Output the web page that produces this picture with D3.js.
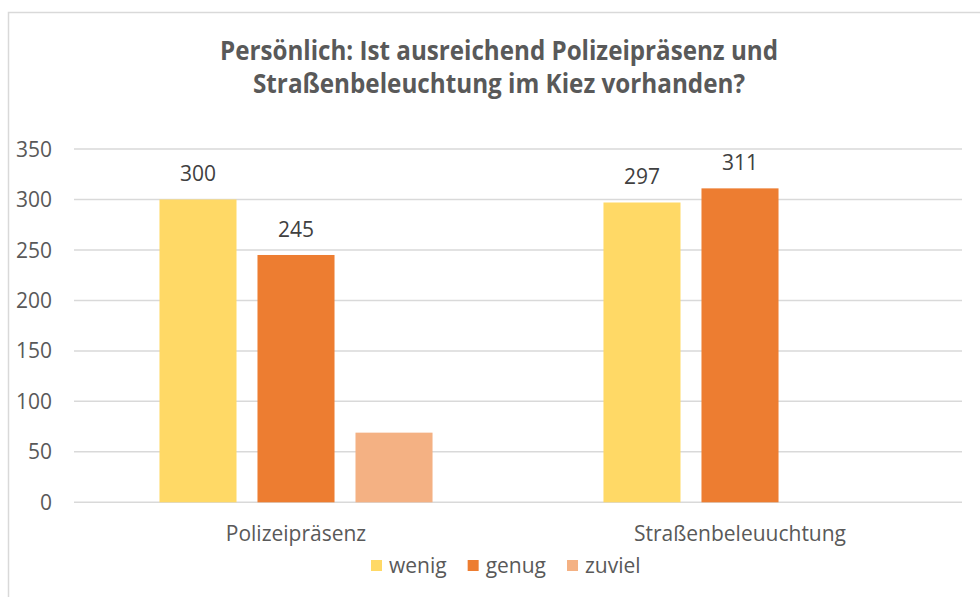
<!DOCTYPE html>
<html>
<head>
<meta charset="utf-8">
<script src="https://cdnjs.cloudflare.com/ajax/libs/d3/7.8.5/d3.min.js"></script>
<style>
  body { margin: 0; background: #fff; }
  text { font-family: 'Open Sans', 'Noto Sans', sans-serif; }
</style>
</head>
<body>
<script>
let categories = ['Polizeipräsenz', 'Straßenbeleuuchtung']
let series = ['wenig', 'genug', 'zuviel']
let wenig = [300, 297]
let genug = [245, 311]
let zuviel = [69, 0]
let labelled = ['wenig', 'genug']
let yTicks = [0, 50, 100, 150, 200, 250, 300, 350]
let titleLines = ['Persönlich: Ist ausreichend Polizeipräsenz und', 'Straßenbeleuchtung im Kiez vorhanden?']

let values = { wenig: wenig, genug: genug, zuviel: zuviel }
let colors = { wenig: '#FFD966', genug: '#ED7D31', zuviel: '#F4B183' }

let
  width = 980,
  height = 597

let margin = { top: 149, bottom: 95, left: 74, right: 18 }

let svg = d3.select('body')
  .append('svg')
  .attr('width', width)
  .attr('height', height)

// chart frame
svg.append('rect')
  .attr('x', 8.5)
  .attr('y', 12.5)
  .attr('width', 1000)
  .attr('height', 700)
  .attr('fill', 'none')
  .attr('stroke', '#d9d9d9')
  .attr('stroke-width', 1.5)

let y = d3.scaleLinear()
  .domain([0, 350])
  .range([502.3, margin.top])

let x0 = d3.scaleBand()
  .domain(categories)
  .range([margin.left, width - margin.right])
  .padding(0)

let x1 = d3.scaleBand()
  .domain(series)
  .range([0, x0.bandwidth()])
  .paddingInner(0.214)
  .paddingOuter(0.872)

// gridlines
svg.append('g')
  .selectAll('line')
  .data(yTicks)
  .enter()
  .append('line')
  .attr('x1', margin.left)
  .attr('x2', width - margin.right)
  .attr('y1', d => y(d))
  .attr('y2', d => y(d))
  .attr('stroke', '#d9d9d9')
  .attr('stroke-width', 1.5)

svg.append('g')
  .selectAll('text')
  .data(yTicks)
  .enter()
  .append('text')
  .attr('x', 52)
  .attr('y', d => y(d))
  .attr('dy', '0.36em')
  .attr('text-anchor', 'end')
  .attr('font-size', '21px')
  .attr('fill', '#595959')
  .text(d => d)

let cells = []
categories.forEach((cat, i) => {
  series.forEach(s => {
    cells.push({ cat: cat, s: s, v: values[s][i] })
  })
})

svg.append('g')
  .selectAll('rect')
  .data(cells.filter(d => d.v > 0))
  .enter()
  .append('rect')
  .attr('x', d => x0(d.cat) + x1(d.s))
  .attr('y', d => y(d.v))
  .attr('width', x1.bandwidth())
  .attr('height', d => y(0) - y(d.v))
  .attr('fill', d => colors[d.s])

svg.append('g')
  .selectAll('text')
  .data(cells.filter(d => labelled.includes(d.s)))
  .enter()
  .append('text')
  .attr('x', d => x0(d.cat) + x1(d.s) + x1.bandwidth() / 2)
  .attr('y', d => y(d.v) - 18)
  .attr('text-anchor', 'middle')
  .attr('font-size', '21px')
  .attr('fill', '#404040')
  .text(d => d.v)

// category labels
svg.append('g')
  .selectAll('text')
  .data(categories)
  .enter()
  .append('text')
  .attr('x', d => x0(d) + x0.bandwidth() / 2)
  .attr('y', 541)
  .attr('text-anchor', 'middle')
  .attr('font-size', '21px')
  .attr('fill', '#595959')
  .text(d => d)

// title
let titleWidths = [558, 492]
svg.append('g')
  .selectAll('text')
  .data(titleLines)
  .enter()
  .append('text')
  .attr('x', 499)
  .attr('y', (d, i) => 59.5 + i * 33)
  .attr('text-anchor', 'middle')
  .attr('font-size', '26px')
  .attr('font-weight', 'bold')
  .attr('fill', '#595959')
  .attr('textLength', (d, i) => titleWidths[i])
  .attr('lengthAdjust', 'spacingAndGlyphs')
  .text(d => d)

// legend
let legend = svg.append('g')
let lx = 371
series.forEach(s => {
  legend.append('rect')
    .attr('x', lx)
    .attr('y', 560)
    .attr('width', 11)
    .attr('height', 11)
    .attr('fill', colors[s])
  let t = legend.append('text')
    .attr('x', lx + 18)
    .attr('y', 572.5)
    .attr('font-size', '21px')
    .attr('fill', '#595959')
    .text(s)
  lx += 18 + t.node().getComputedTextLength() + 21
})
</script>
</body>
</html>
